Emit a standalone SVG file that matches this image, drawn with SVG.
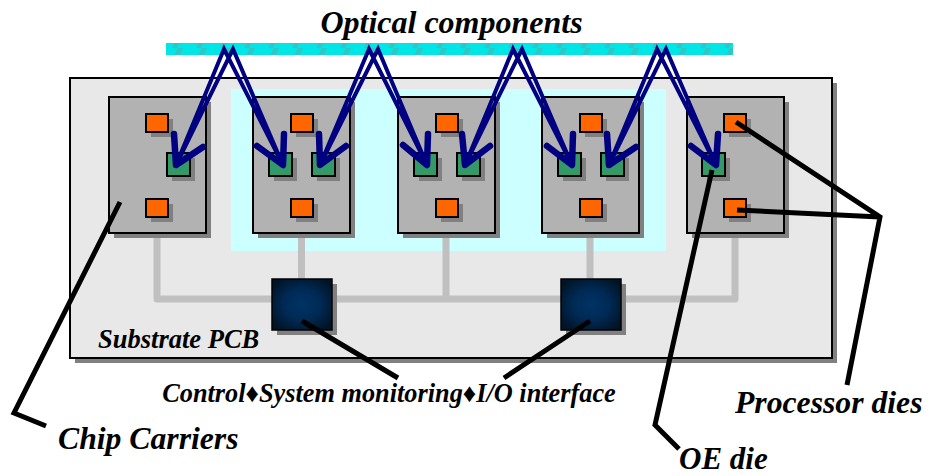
<svg xmlns="http://www.w3.org/2000/svg" width="926" height="476" viewBox="0 0 926 476">
<style>
text{font-family:"Liberation Serif","Times New Roman",serif;font-weight:bold;font-style:italic;fill:#000}
.sh{fill:#808080}
.car{fill:#b2b2b2;stroke:#000;stroke-width:2}
.or{fill:#ff6600;stroke:#000;stroke-width:2}
.gr{fill:#339966;stroke:#000;stroke-width:2}
.ic{fill:url(#icg);stroke:#000;stroke-width:1.5}
.bus{fill:none;stroke:#c0c0c0;stroke-width:7;stroke-linejoin:round;stroke-linecap:round}
.ray{fill:none;stroke:#000080;stroke-width:4;stroke-linejoin:miter}
.head{fill:none;stroke:#000080;stroke-width:6.500;stroke-linecap:round;stroke-linejoin:round}
.lead{fill:none;stroke:#000;stroke-width:5;stroke-linejoin:miter}
</style>
<defs>
<radialGradient id="icg" cx="50%" cy="50%" r="60%"><stop offset="0" stop-color="#003366"/><stop offset="0.5" stop-color="#002a55"/><stop offset="1" stop-color="#001428"/></radialGradient>
<pattern id="hatch" width="24" height="12" patternUnits="userSpaceOnUse"><rect width="24" height="12" fill="#00e6e6"/><path d="M4 12L10 0H15L9 12Z" fill="#33c4c4"/></pattern>
<g id="o"><rect class="sh" x="5" y="5" width="22" height="18"/><rect class="or" width="22" height="18"/></g>
<g id="g"><rect class="sh" x="5" y="5" width="23" height="23"/><rect class="gr" width="23" height="23"/></g>
<g id="c"><rect class="sh" x="5" y="5" width="97" height="136"/><rect class="car" width="97" height="136"/></g>
</defs>
<g id="substrate"><rect class="sh" x="75" y="83" width="762" height="280"/><rect x="70" y="78" width="762" height="280" fill="#e8e8e8" stroke="#000" stroke-width="2"/></g>
<rect id="optical-area" x="231" y="89" width="435" height="162" fill="#ccffff"/>
<g id="optical-bar"><rect x="166" y="43" width="567" height="12" fill="url(#hatch)"/></g>
<g id="bus"><path class="bus" d="M157 236V299H735V236M301.500 236V299M446 236V299M590 236V299"/></g>
<g id="carrier-1"><use href="#c" x="109" y="97"/><use href="#o" x="146" y="114"/><use href="#o" x="146" y="199"/><use href="#g" x="167" y="153"/></g>
<g id="carrier-2"><use href="#c" x="253" y="97"/><use href="#o" x="291" y="114"/><use href="#o" x="291" y="199"/><use href="#g" x="269" y="153"/><use href="#g" x="312" y="153"/></g>
<g id="carrier-3"><use href="#c" x="398" y="97"/><use href="#o" x="436" y="114"/><use href="#o" x="436" y="199"/><use href="#g" x="414" y="153"/><use href="#g" x="457" y="153"/></g>
<g id="carrier-4"><use href="#c" x="542" y="97"/><use href="#o" x="580" y="114"/><use href="#o" x="580" y="199"/><use href="#g" x="558" y="153"/><use href="#g" x="601" y="153"/></g>
<g id="carrier-5"><use href="#c" x="687" y="97"/><use href="#o" x="724" y="114"/><use href="#o" x="724" y="199"/><use href="#g" x="702" y="153"/></g>
<g id="ic-1"><rect class="sh" x="277" y="284" width="60" height="51"/><rect class="ic" x="272" y="279" width="60" height="51"/></g>
<g id="ic-2"><rect class="sh" x="566" y="284" width="60" height="51"/><rect class="ic" x="561" y="279" width="60" height="51"/></g>
<g id="connectors">
<path class="ray" d="M176 165L224 49L283 165M176 165L233 49L283 165M320 165L369 49L427 165M320 165L378 49L427 165M465 165L513 49L572 165M465 165L522 49L572 165M609 165L657 49L716 165M609 165L666 49L716 165"/>
<path class="head" d="M174 134L176 165L203 147M257 146L283 165L284 134M319 134L320 165L346 146M403 145L427 165L428 134M462 134L465 165L490 146M547 146L572 165L573 134M607 134L609 165L636 147M691 146L716 165L718 134"/>
<path class="lead" d="M120 202L14 413L46 426"/>
<path class="lead" d="M712 170L655 425L679 449"/>
<path class="lead" d="M736 122L880 217L847 385M737 210L880 217"/>
<path class="lead" d="M302 321L398 378M590 321L504 378"/>
</g>
<text x="451.500" y="33" font-size="32" text-anchor="middle">Optical components</text>
<text x="98" y="348" font-size="26.500">Substrate PCB</text>
<text x="389" y="402" font-size="26.300" text-anchor="middle">Control♦System monitoring♦I/O interface</text>
<text x="58" y="449" font-size="31.700">Chip Carriers</text>
<text x="735" y="413" font-size="31.700">Processor dies</text>
<text x="679" y="469" font-size="31">OE die</text>
</svg>
